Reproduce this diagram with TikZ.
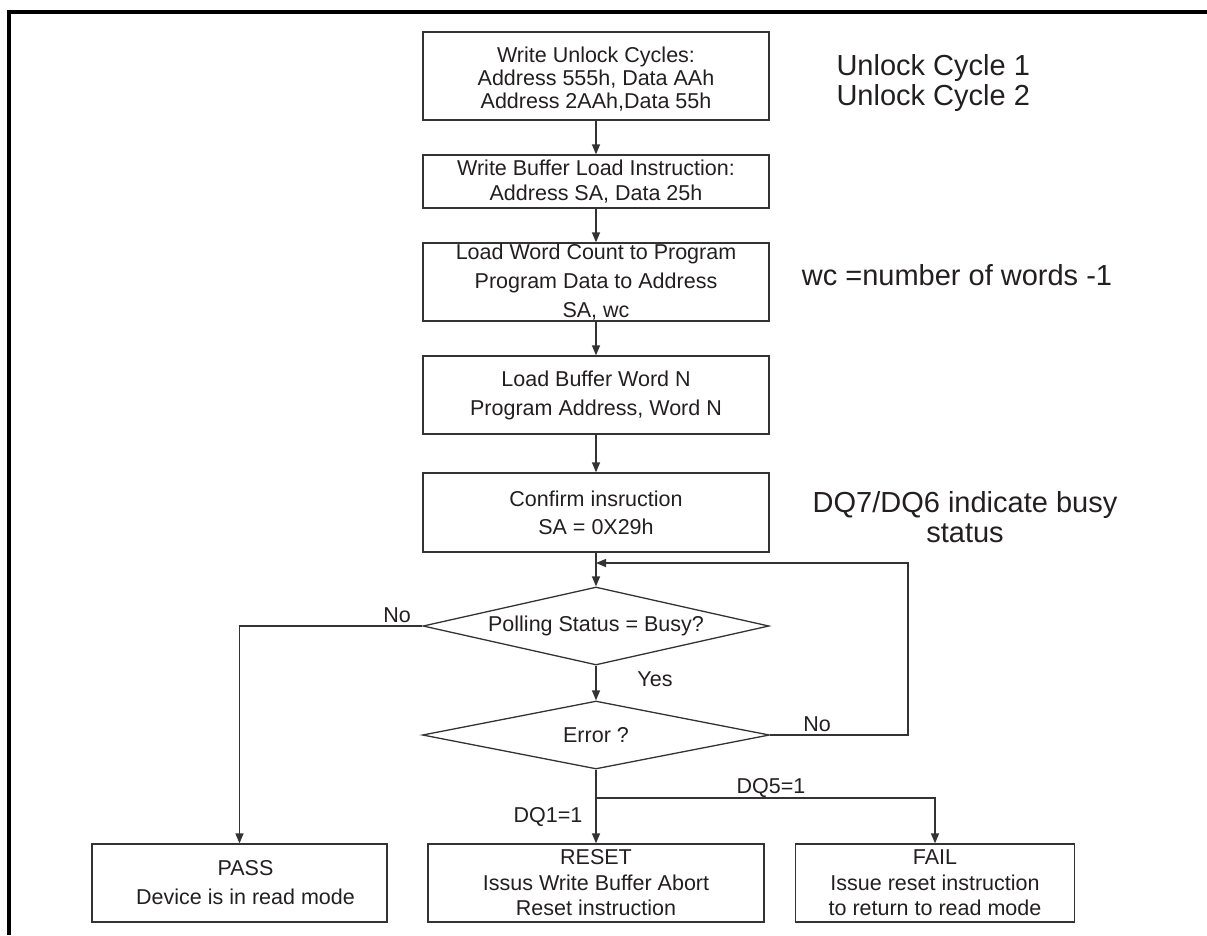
\documentclass[tikz,border=0pt]{standalone}
\usepackage{fontspec}
\setmainfont{Liberation Sans}
\usetikzlibrary{shapes.geometric,arrows.meta}
\definecolor{ink}{HTML}{231F20}
\definecolor{edge}{HTML}{333333}
\begin{document}
\begin{tikzpicture}[x=1pt,y=-1pt,
  every node/.style={text=ink, font=\fontsize{21.5}{25}\selectfont},
  lh/.style={font=\fontsize{21.5}{#1}\selectfont},
  notefont/.style={font=\fontsize{29}{#1}\selectfont},
  box/.style={draw=edge, line width=1.3pt, rectangle, inner sep=0pt, minimum width=346pt, align=center},
  dia/.style={draw=edge, line width=1.3pt, diamond, aspect=4.4, inner sep=0pt},
  conn/.style={draw=edge, line width=1.3pt, -{Triangle[length=10pt,width=8pt]}},
  plain/.style={draw=edge, line width=1.3pt}
]
\useasboundingbox (0,0) rectangle (1207,935);
% frame
\draw[line width=4pt, line join=miter] (9,935) -- (9,12) -- (1207,12);

% process boxes
\node[box, lh=23, minimum height=88pt] (b1) at (596,76) {\rule{0pt}{22pt}Write Unlock Cycles:\\Address 555h, Data AAh\\Address 2AAh,Data 55h};
\node[box, lh=25, minimum height=53pt] (b2) at (596,181.5) {Write Buffer Load Instruction:\\Address SA, Data 25h};
\node[box, lh=29, minimum height=78pt] (b3) at (596,282) {Load Word Count to Program\\Program Data to Address\\SA, wc};
\node[box, lh=29, minimum height=78pt] (b4) at (596,395) {Load Buffer Word N\\Program Address, Word N};
\node[box, lh=28, minimum height=79pt] (b5) at (596,512.5) {Confirm insruction\\SA = 0X29h};

% decisions
\node[dia, minimum width=346pt, minimum height=78pt] (d1) at (596,626) {Polling Status = Busy?};
\node[dia, minimum width=347pt, minimum height=68pt] (d2) at (596,735) {Error ?};

% end boxes
\node[box, lh=29, minimum width=295pt, minimum height=78pt] (pass) at (239.5,883) {\hspace*{12pt}PASS\\\hspace*{12pt}Device is in read mode};
\node[box, lh=25.5, minimum width=336pt, minimum height=78pt] (reset) at (596,883) {RESET\\Issus Write Buffer Abort\\Reset instruction};
\node[box, lh=25.5, minimum width=279pt, minimum height=78pt] (fail) at (935,883) {FAIL\\Issue reset instruction\\to return to read mode};

% side notes
\node[notefont=30, anchor=west, align=left] (n1) at (833,83) {Unlock Cycle 1\\Unlock Cycle 2};
\node[notefont=30] (n2) at (957,275) {wc =number of words -1};
\node[notefont=30, align=center] (n3) at (965,517) {DQ7/DQ6 indicate busy\\status};

% labels
\node (lno1) at (397,615) {No};
\node (lyes) at (655,679) {Yes};
\node (lno2) at (817,724) {No};
\node (ldq5) at (771,788) {DQ5=1};
\node (ldq1) at (548,817) {DQ1=1};

% connectors
\draw[conn] (b1.south) -- (b2.north);
\draw[conn] (b2.south) -- (b3.north);
\draw[conn] (b3.south) -- (b4.north);
\draw[conn] (b4.south) -- (b5.north);
\draw[conn] (b5.south) -- (d1.north);
\draw[conn] (d1.south) -- (d2.north);
\draw[conn] (d1.west) -| (pass.north);
\draw[conn] (d2.south) -- (reset.north);
\coordinate (j) at (596,798);
\draw[conn] (j) -| (fail.north);
\coordinate (fb) at (908,563);
\draw[conn] (d2.east) -| (fb) -- (b5.south |- fb);
\end{tikzpicture}
\end{document}
